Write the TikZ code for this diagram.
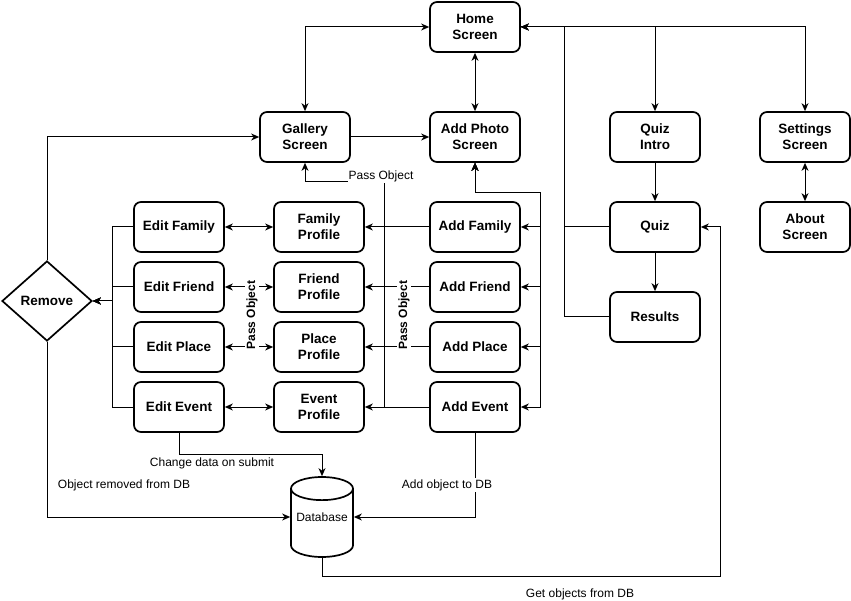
\documentclass[tikz,border=0pt]{standalone}
\usepackage{fontspec}
\setmainfont{Liberation Sans}
\usetikzlibrary{arrows.meta,positioning,shapes.geometric}

\begin{document}
\begin{tikzpicture}[->,>={Stealth[length=8pt,width=7pt,inset=2.5pt]},x=1pt,y=-1pt,line width=1pt]
\tikzstyle{box}=[shape=rectangle,draw,rounded corners=7pt,line width=1.7pt,minimum width=90pt,minimum height=50pt,align=center,inner sep=1pt,font=\fontsize{13.5}{16}\selectfont\bfseries]
\tikzstyle{dec}=[shape=diamond,draw,line width=1.7pt,minimum width=90pt,minimum height=80pt,inner sep=0pt,font=\fontsize{13.5}{16}\selectfont\bfseries]
\tikzstyle{db}=[shape=cylinder,shape border rotate=90,draw,aspect=0.45,line width=1.7pt,minimum width=62pt,minimum height=80pt,inner sep=0pt,font=\fontsize{12}{14}\selectfont]
\tikzstyle{lbl}=[font=\fontsize{12}{14}\selectfont,inner sep=1pt]
\tikzstyle{pass}=[font=\fontsize{12}{14}\selectfont\bfseries,rotate=90,fill=white,inner sep=1pt]
\useasboundingbox (0,0) rectangle (851,601);

\node[box]		(H) at (475,27)		{Home\\Screen};
\node[box]		(P) [below of=H, node distance=110pt] {Add Photo\\Screen};
\node[box]		(G) [left of=P, node distance=170pt] {Gallery\\Screen};
\node[box]		(I) [right of=P, node distance=180pt] {Quiz\\Intro};
\node[box]		(S) [right of=I, node distance=150pt] {Settings\\Screen};
\node[box]		(Q) [below of=I, node distance=90pt] {Quiz};
\node[box]		(A) [below of=S, node distance=90pt] {About\\Screen};
\node[box]		(R) [below of=Q, node distance=90pt] {Results};
\node[box]		(AF) [below of=P, node distance=90pt] {Add Family};
\node[box]		(AR) [below of=AF, node distance=60pt] {Add Friend};
\node[box]		(AP) [below of=AR, node distance=60pt] {Add Place};
\node[box]		(AE) [below of=AP, node distance=60pt] {Add Event};
\node[box]		(FP) [left of=AF, node distance=156pt] {Family\\Profile};
\node[box]		(RP) [left of=AR, node distance=156pt] {Friend\\Profile};
\node[box]		(PP) [left of=AP, node distance=156pt] {Place\\Profile};
\node[box]		(EP) [left of=AE, node distance=156pt] {Event\\Profile};
\node[box]		(EF) [left of=FP, node distance=140pt] {Edit Family};
\node[box]		(ER) [left of=RP, node distance=140pt] {Edit Friend};
\node[box]		(EL) [left of=PP, node distance=140pt] {Edit Place};
\node[box]		(EE) [left of=EP, node distance=140pt] {Edit Event};
\node[dec]		(X) at (47,301)		{Remove};
\node[db]		(DB) [anchor=shape center] at (322,517) {\phantom{Database}};
\node[lbl]		(DBt) at (DB.shape center) {Database};
\coordinate (pass) at (384,182);
\coordinate (get) at (720,576);

% top screens
\path
(H.west) edge[<->, to path={-| (\tikztotarget)}] (G.north)
(H.south) edge[<->] (P.north)
(G.east) edge (P.west)
(H.east) edge[<->, to path={-| (\tikztotarget)}] (S.north)
(H.east) edge[to path={-| (\tikztotarget)}] (I.north)
(S.south) edge[<->] (A.north)
(I.south) edge (Q.north)
(Q.south) edge (R.north);
\draw (Q.west) -- ++(-45,0) |- (H.east);
\draw (R.west) -- ++(-45,0) |- (H.east);

% remove
\draw (X.north) |- (G.west);
\foreach \n in {EF,ER,EL,EE}
  \draw (\n.west) -- ++(-21,0) |- (X.east);

% profiles
\foreach \e/\p/\a in {EF/FP/AF,ER/RP/AR,EL/PP/AP,EE/EP/AE} {
  \draw[<->] (\e.east) -- (\p.west);
  \draw (\a.west) -- (\p.east);
  \draw[<->] (P.south) |- ++(65,30) |- (\a.east);
}
\node[pass] (pl) at (252,315) {Pass Object};
\node[pass] (pr) at (404,315) {Pass Object};
\draw (AE.west) -| (pass) -| (G.south);
\node[lbl,fill=white] (pg) at (381,176) {Pass Object};

% database
\draw (EE.south) -- ++(0,22) -| (DB.north);
\draw (X.south) |- (DB.shape center -| DB.west);
\draw (AE.south) |- (DB.shape center -| DB.east);
\draw (DB.south) |- (get) |- (Q.east);
\node[lbl] (lc) at (212,463) {Change data on submit};
\node[lbl] (lx) at (124,485) {Object removed from DB};
\node[lbl,fill=white] (la) at (447,485) {Add object to DB};
\node[lbl] (lg) at (580,594) {Get objects from DB};
\end{tikzpicture}
\end{document}
